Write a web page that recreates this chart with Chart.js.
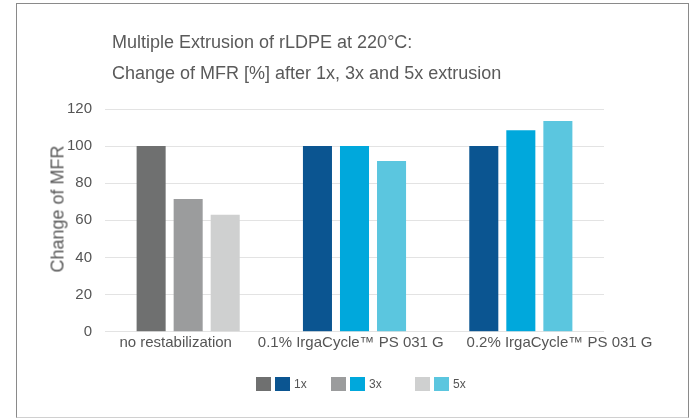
<!DOCTYPE html>
<html>
<head>
<meta charset="utf-8">
<script src="https://cdn.jsdelivr.net/npm/chart.js@4.4.1/dist/chart.umd.min.js"></script>
<style>
  body { margin: 0; background: #fff; font-family: "Liberation Sans", Arial, sans-serif; color: #555; }
  #wrap { position: relative; width: 693px; height: 419px; overflow: hidden; }
  #frame { position: absolute; left: 16px; top: 3px; width: 671px; height: 413px;
           border: 1px solid #8a8a8a; border-bottom-color: #d0d0d0; }
  #chart { position: absolute; left: 0; top: 0; }
  .title { position: absolute; left: 112px; font-size: 18px; color: #5a5a5a; white-space: nowrap; }
  #ytitle { position: absolute; left: 58px; top: 209px; font-size: 18px; color: #5a5a5a; white-space: nowrap;
            transform: translate(-50%, -50%) rotate(-90deg); }
  .leg { position: absolute; top: 377px; display: flex; align-items: center; font-size: 12px; color: #555; }
  .leg span.sw { display: inline-block; width: 15px; height: 14px; margin-right: 4px; }
  .leg span.tx { margin-left: 0px; }
</style>
</head>
<body>
<div id="wrap">
  <div id="frame"></div>
  <canvas id="chart" width="693" height="419"></canvas>
  <div class="title" style="top:32px">Multiple Extrusion of rLDPE at 220°C:</div>
  <div class="title" style="top:63px">Change of MFR [%] after 1x, 3x and 5x extrusion</div>
  <div id="ytitle">Change of MFR</div>
  <div id="legend"></div>
</div>
<script>
// data
var categories = ["no restabilization", "0.1% IrgaCycle\u2122 PS 031 G", "0.2% IrgaCycle\u2122 PS 031 G"];
var seriesNames = ["1x", "3x", "5x"];
var after1x = [100, 100, 100];
var after3x = [71.5, 100, 108.5];
var after5x = [63, 92, 113.5];
var yTicks = [0, 20, 40, 60, 80, 100, 120];

// colours: first group is grey, the others blue
var greys = ["#6f7070", "#9b9c9d", "#cfd0d0"];
var blues = ["#0b5591", "#00a8dc", "#5bc6df"];
var labelShift = [-12.5, -3.7, 38.7];
var legendLeft = [256, 331, 415];

function colorsFor(i) {
  return categories.map(function(c, j) { return j === 0 ? greys[i] : blues[i]; });
}

var series = [after1x, after3x, after5x];
var datasets = series.map(function(vals, i) {
  return {
    label: seriesNames[i],
    data: vals,
    backgroundColor: colorsFor(i),
    borderWidth: 0,
    categoryPercentage: 0.668,
    barPercentage: 0.784
  };
});

var xLabels = {
  id: "xLabels",
  afterDraw: function(chart) {
    var ctx = chart.ctx, x = chart.scales.x, area = chart.chartArea;
    ctx.save();
    ctx.font = "15px 'Liberation Sans', Arial, sans-serif";
    ctx.fillStyle = "#555";
    ctx.textAlign = "center";
    ctx.textBaseline = "middle";
    categories.forEach(function(c, i) {
      ctx.fillText(c, x.getPixelForTick(i) + labelShift[i], area.bottom + 11.5);
    });
    ctx.restore();
  }
};

new Chart(document.getElementById("chart"), {
  type: "bar",
  data: { labels: categories, datasets: datasets },
  plugins: [xLabels],
  options: {
    responsive: false,
    animation: false,
    devicePixelRatio: 1,
    layout: { padding: { left: 40, right: 89, top: 109, bottom: 57.3 } },
    plugins: { legend: { display: false }, tooltip: { enabled: false } },
    scales: {
      x: {
        grid: { display: false },
        border: { display: false },
        ticks: { display: false },
        afterFit: function(s) { s.height = 30; }
      },
      y: {
        min: 0,
        max: 120,
        afterBuildTicks: function(s) { s.ticks = yTicks.map(function(v) { return { value: v }; }); },
        grid: { color: "#e3e3e3", lineWidth: 1, drawTicks: false },
        border: { display: false },
        ticks: { padding: 13, color: "#555", font: { family: "'Liberation Sans', Arial, sans-serif", size: 15 } },
        afterFit: function(s) { s.width = 65; }
      }
    }
  }
});

// legend: two swatches (grey and blue) per series
var leg = document.getElementById("legend");
seriesNames.forEach(function(name, i) {
  var d = document.createElement("div");
  d.className = "leg";
  d.style.left = legendLeft[i] + "px";
  d.innerHTML = '<span class="sw" style="background:' + greys[i] + '"></span>' +
    '<span class="sw" style="background:' + blues[i] + '"></span>' +
    '<span class="tx">' + name + '</span>';
  leg.appendChild(d);
});
</script>
</body>
</html>
